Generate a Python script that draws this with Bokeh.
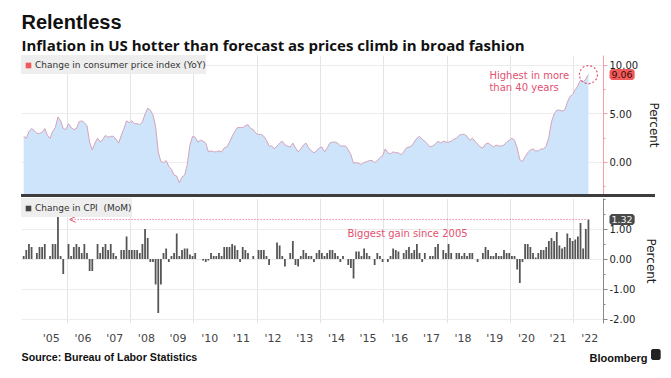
import pandas as pd
from bokeh.plotting import figure
from bokeh.layouts import column
from bokeh.models import (FixedTicker, NumeralTickFormatter, Label, Title, Div,
                          Arrow, OpenHead, Legend, LegendItem, Range1d)
from bokeh.embed import file_html
from bokeh.resources import INLINE

# ---------------- data (monthly, Aug 2004 .. Jun 2022) ----------------
start_month = "2004-08"

yoy_2004 = [2.7, 2.5, 3.2, 3.5, 3.3]
yoy_2005 = [3.0, 3.0, 3.1, 3.5, 2.8, 2.5, 3.2, 3.6, 4.7, 4.3, 3.5, 3.4]
yoy_2006 = [4.0, 3.6, 3.4, 3.5, 4.2, 4.3, 4.1, 3.8, 2.1, 1.3, 2.0, 2.5]
yoy_2007 = [2.1, 2.4, 2.8, 2.6, 2.7, 2.7, 2.4, 2.0, 2.8, 3.5, 4.3, 4.1]
yoy_2008 = [4.3, 4.0, 4.0, 3.9, 4.2, 5.0, 5.6, 5.4, 4.9, 3.7, 1.1, 0.1]
yoy_2009 = [0.0, 0.2, -0.4, -0.7, -1.3, -1.4, -2.1, -1.5, -1.3, -0.2, 1.8, 2.7]
yoy_2010 = [2.6, 2.1, 2.3, 2.2, 2.0, 1.1, 1.2, 1.1, 1.1, 1.2, 1.1, 1.5]
yoy_2011 = [1.6, 2.1, 2.7, 3.2, 3.6, 3.6, 3.6, 3.8, 3.9, 3.5, 3.4, 3.0]
yoy_2012 = [2.9, 2.9, 2.7, 2.3, 1.7, 1.7, 1.4, 1.7, 2.0, 2.2, 1.8, 1.7]
yoy_2013 = [1.6, 2.0, 1.5, 1.1, 1.4, 1.8, 2.0, 1.5, 1.2, 1.0, 1.2, 1.5]
yoy_2014 = [1.6, 1.1, 1.5, 2.0, 2.1, 2.1, 2.0, 1.7, 1.7, 1.7, 1.3, 0.8]
yoy_2015 = [-0.1, 0.0, -0.1, -0.2, 0.0, 0.1, 0.2, 0.2, 0.0, 0.2, 0.5, 0.7]
yoy_2016 = [1.4, 1.0, 0.9, 1.1, 1.0, 1.0, 0.8, 1.1, 1.5, 1.6, 1.7, 2.1]
yoy_2017 = [2.5, 2.7, 2.4, 2.2, 1.9, 1.6, 1.7, 1.9, 2.2, 2.0, 2.2, 2.1]
yoy_2018 = [2.1, 2.2, 2.4, 2.5, 2.8, 2.9, 2.9, 2.7, 2.3, 2.5, 2.2, 1.9]
yoy_2019 = [1.6, 1.5, 1.9, 2.0, 1.8, 1.6, 1.8, 1.7, 1.7, 1.8, 2.1, 2.3]
yoy_2020 = [2.5, 2.3, 1.5, 0.3, 0.1, 0.6, 1.0, 1.3, 1.4, 1.2, 1.2, 1.4]
yoy_2021 = [1.4, 1.7, 2.6, 4.2, 5.0, 5.4, 5.4, 5.3, 5.4, 6.2, 6.8, 7.0]
yoy_2022 = [7.5, 7.9, 8.5, 8.3, 8.6, 9.06]

mom_2004 = [0.1, 0.3, 0.5, 0.4, 0.0]
mom_2005 = [0.2, 0.4, 0.4, 0.5, 0.0, 0.1, 0.5, 0.5, 1.4, 0.1, -0.5, 0.0]
mom_2006 = [0.5, 0.1, 0.4, 0.5, 0.4, 0.2, 0.5, 0.2, -0.4, -0.4, 0.0, 0.5]
mom_2007 = [0.2, 0.4, 0.5, 0.3, 0.5, 0.2, 0.1, 0.0, 0.3, 0.3, 0.75, 0.3]
mom_2008 = [0.3, 0.3, 0.3, 0.2, 0.5, 1.0, 0.7, -0.1, -0.1, -0.85, -1.8, -0.85]
mom_2009 = [0.2, 0.35, -0.1, 0.1, 0.2, 0.85, 0.1, 0.3, 0.35, 0.35, 0.15, 0.1]
mom_2010 = [0.2, 0.0, 0.0, -0.05, -0.1, -0.05, 0.2, 0.1, 0.1, 0.2, 0.1, 0.4]
mom_2011 = [0.4, 0.4, 0.5, 0.45, 0.3, -0.1, 0.4, 0.3, 0.2, 0.0, 0.1, 0.0]
mom_2012 = [0.3, 0.3, 0.3, 0.1, -0.2, 0.0, 0.0, 0.55, 0.45, 0.1, -0.25, 0.0]
mom_2013 = [0.2, 0.6, -0.2, -0.25, 0.1, 0.3, 0.2, 0.1, 0.1, -0.1, 0.2, 0.3]
mom_2014 = [0.2, 0.1, 0.2, 0.3, 0.3, 0.2, 0.1, -0.1, 0.1, 0.0, -0.2, -0.3]
mom_2015 = [-0.65, 0.25, 0.25, 0.1, 0.35, 0.2, 0.1, 0.0, -0.2, 0.2, 0.1, -0.1]
mom_2016 = [0.0, -0.1, 0.1, 0.35, 0.3, 0.25, 0.0, 0.2, 0.3, 0.4, 0.2, 0.3]
mom_2017 = [0.5, 0.2, -0.1, 0.2, 0.0, 0.1, 0.1, 0.4, 0.5, 0.0, 0.3, 0.2]
mom_2018 = [0.5, 0.2, 0.0, 0.2, 0.2, 0.1, 0.2, 0.1, 0.2, 0.2, 0.0, -0.1]
mom_2019 = [0.0, 0.2, 0.4, 0.3, 0.1, 0.1, 0.2, 0.1, 0.1, 0.3, 0.2, 0.2]
mom_2020 = [0.1, 0.1, -0.35, -0.8, -0.1, 0.5, 0.5, 0.4, 0.2, 0.05, 0.2, 0.3]
mom_2021 = [0.3, 0.4, 0.6, 0.7, 0.6, 0.9, 0.45, 0.35, 0.4, 0.85, 0.7, 0.6]
mom_2022 = [0.65, 0.75, 1.2, 0.35, 1.0, 1.32]

cpi_yoy = (yoy_2004 + yoy_2005 + yoy_2006 + yoy_2007 + yoy_2008 + yoy_2009 + yoy_2010 +
           yoy_2011 + yoy_2012 + yoy_2013 + yoy_2014 + yoy_2015 + yoy_2016 + yoy_2017 +
           yoy_2018 + yoy_2019 + yoy_2020 + yoy_2021 + yoy_2022)
cpi_mom = (mom_2004 + mom_2005 + mom_2006 + mom_2007 + mom_2008 + mom_2009 + mom_2010 +
           mom_2011 + mom_2012 + mom_2013 + mom_2014 + mom_2015 + mom_2016 + mom_2017 +
           mom_2018 + mom_2019 + mom_2020 + mom_2021 + mom_2022)

label_years = list(range(2005, 2023))
year_labels = ["'05", "'06", "'07", "'08", "'09", "'10", "'11", "'12", "'13",
               "'14", "'15", "'16", "'17", "'18", "'19", "'20", "'21", "'22"]
grid_years = [2006, 2008, 2010, 2012, 2014, 2016, 2018, 2020, 2022]
yoy_ticks = [0, 5, 10]
mom_ticks = [-2, -1, 0, 1]

title_text = "Relentless"
subtitle_text = "Inflation in US hotter than forecast as prices climb in broad fashion"
legend_yoy = "Change in consumer price index (YoY)"
legend_mom = "Change in CPI  (MoM)"
note_top = ["Highest in more", "than 40 years"]
note_bottom = "Biggest gain since 2005"
source_text = "Source: Bureau of Labor Statistics"
brand_text = "Bloomberg"

# ---------------- styling ----------------
PINK = "#e5506f"
FONT = "DejaVu Sans"
HEAD = "Liberation Sans"
SUB = "Open Sans"
NAN = float("nan")

dates = pd.date_range(start_month, periods=len(cpi_yoy), freq="MS")
t = list(dates.year + (dates.month - 1) / 12 + 1 / 24)
t_last, yoy_last, mom_last = t[-1], cpi_yoy[-1], cpi_mom[-1]
i2005 = max(range(0, 20), key=lambda i: cpi_mom[i])

xr = Range1d(2004.557, 2022.934)
FW = 582

common = dict(frame_width=FW, x_range=xr, y_axis_location="right", output_backend="svg",
              toolbar_location=None, title_location=None, min_border_left=21, min_border_right=68,
              background_fill_color="white", border_fill_color="white")


def style_right_axis(ax, ticks, minor, color):
    ax.ticker = FixedTicker(ticks=ticks, minor_ticks=minor)
    ax.formatter = NumeralTickFormatter(format="0.00")
    ax.axis_line_color = color
    ax.major_tick_line_color = color
    ax.minor_tick_line_color = color
    ax.major_tick_in, ax.major_tick_out = 0, 4
    ax.minor_tick_in, ax.minor_tick_out = 0, 2
    ax.major_label_standoff = 2
    ax.major_label_text_font = FONT
    ax.major_label_text_font_size = "10px"
    ax.major_label_text_color = "#222222"
    ax.axis_label = "Percent"
    ax.axis_label_text_font = FONT
    ax.axis_label_text_font_size = "12px"
    ax.axis_label_text_font_style = "normal"
    ax.axis_label_text_color = "#222222"
    ax.axis_label_standoff = 6


def make_legend(label, renderer):
    return Legend(items=[LegendItem(label=label, renderers=[renderer])], location="top_left",
                  background_fill_color="#eeeeee", background_fill_alpha=1.0,
                  border_line_color=None, margin=0, padding=0, spacing=0,
                  glyph_width=14, glyph_height=14, label_height=19, label_standoff=0,
                  label_text_font=FONT, label_text_font_size="9px", label_text_color="#333333")


def value_tag(value, bg, fg):
    # value box drawn just right of the frame (over the axis); kept in the empty left panel
    return Label(x=xr.end, y=value, x_offset=8, text="%.2f" % value,
                 text_font=FONT, text_font_size="9.5px", text_color=fg,
                 text_align="left", text_baseline="middle", padding=0,
                 background_fill_color=bg, background_fill_alpha=1,
                 border_line_color=bg, border_line_width=4)


# ---------------- top panel ----------------
p1 = figure(frame_height=139, y_range=Range1d(-3.30, 11.03),
            min_border_top=55, min_border_bottom=0, **common)
p1.outline_line_color = None
p1.xaxis.visible = False
p1.xgrid.ticker = FixedTicker(ticks=grid_years)
p1.xgrid.grid_line_color = "#e4e4e4"
p1.ygrid.grid_line_color = "#ececec"

p1.varea(x=t, y1=p1.y_range.start, y2=cpi_yoy, fill_color="#cde4fb")
p1.line(x=t, y=cpi_yoy, line_color="#d4a3ba", line_width=1)
p1.scatter(x=[t_last], y=[yoy_last], marker="circle", size=18, fill_color=None,
           line_color=PINK, line_dash="2 2", line_width=1.2)

style_right_axis(p1.yaxis[0], yoy_ticks, [-2.5, 2.5, 7.5], "#f3a0a8")

d1 = p1.scatter(x=[NAN], y=[NAN], marker="square", size=6, fill_color="#f05a5a", line_color=None)
p1.add_layout(make_legend(legend_yoy, d1))

p1.add_layout(Label(x=t_last, y=yoy_last, x_offset=-99, y_offset=-1, text=note_top[0],
                    text_font=FONT, text_font_size="10px", text_color=PINK,
                    text_align="left", text_baseline="middle"))
p1.add_layout(Label(x=t_last, y=yoy_last, x_offset=-99, y_offset=-13, text=note_top[1],
                    text_font=FONT, text_font_size="10px", text_color=PINK,
                    text_align="left", text_baseline="middle"))

p1.add_layout(value_tag(yoy_last, "#f25b5b", "#3a0d0d"), "left")

p1.add_layout(Title(text=subtitle_text, align="left", text_font=SUB, text_font_style="bold",
                    text_font_size="15px", text_color="#111111", standoff=1), "above")
p1.add_layout(Title(text=title_text, align="left", text_font=HEAD, text_font_style="bold",
                    text_font_size="20px", text_color="#111111", standoff=0), "above")

# separator bar between the panels
sep = Div(text="", width=634, height=3, margin=(0, 0, 0, 21),
          styles={"background-color": "#3d3d3d", "overflow": "hidden"})

# ---------------- bottom panel ----------------
p2 = figure(frame_height=125, y_range=Range1d(-2.15, 2.017),
            min_border_top=1, min_border_bottom=55, **common)
p2.outline_line_color = None
p2.xgrid.ticker = FixedTicker(ticks=grid_years)
p2.xgrid.grid_line_color = "#e4e4e4"
p2.ygrid.grid_line_color = "#ececec"

p2.vbar(x=t, top=cpi_mom, bottom=0, width=0.056, fill_color="#555555", line_color=None)

xa = p2.xaxis[0]
xa.ticker = FixedTicker(ticks=[y + 0.5 for y in label_years])
xa.major_label_overrides = {y + 0.5: lab for y, lab in zip(label_years, year_labels)}
xa.axis_line_color = None
xa.major_tick_line_color = None
xa.minor_tick_line_color = None
xa.major_tick_in, xa.major_tick_out = 0, 0
xa.minor_tick_in, xa.minor_tick_out = 0, 0
xa.major_label_standoff = 8
xa.major_label_text_font = FONT
xa.major_label_text_font_size = "11px"
xa.major_label_text_color = "#444444"

style_right_axis(p2.yaxis[0], mom_ticks, [-1.5, -0.5, 0.5, 1.5, 2.0], "#888888")

d2 = p2.scatter(x=[NAN], y=[NAN], marker="square", size=6, fill_color="#444444", line_color=None)
p2.add_layout(make_legend(legend_mom, d2))

p2.add_layout(Arrow(x_start=t_last - 0.09, y_start=mom_last, x_end=t[i2005] + 0.37, y_end=mom_last,
                    line_color=PINK, line_width=1, line_dash="1 2",
                    end=OpenHead(size=6, line_color=PINK, line_width=1)))
p2.add_layout(Label(x=2014.85, y=0.86, text=note_bottom, text_font=FONT, text_font_size="10px",
                    text_color=PINK, text_align="left", text_baseline="middle"))

p2.add_layout(value_tag(mom_last, "#4a4a4a", "#f2f2f2"), "left")

# footer
p2.add_layout(Title(text=source_text, align="left", text_font=HEAD, text_font_style="bold",
                    text_font_size="10.7px", text_color="#111111", standoff=2), "below")
p2.add_layout(Label(x=xr.end, y=p2.y_range.start, x_offset=44, y_offset=-34, text=brand_text,
                    text_font=HEAD, text_font_style="bold", text_font_size="11px",
                    text_color="#111111", text_align="right", text_baseline="alphabetic"), "below")
p2.add_layout(Label(x=xr.end, y=p2.y_range.start, x_offset=49, y_offset=-31, text="   ",
                    text_font=FONT, text_font_size="7px", text_align="left", text_baseline="middle",
                    padding=0, background_fill_color="#222222", background_fill_alpha=1,
                    border_line_color="#222222", border_line_width=3), "right")

layout = column(p1, sep, p2, spacing=0)
open("out.html", "w").write(file_html(layout, INLINE))
